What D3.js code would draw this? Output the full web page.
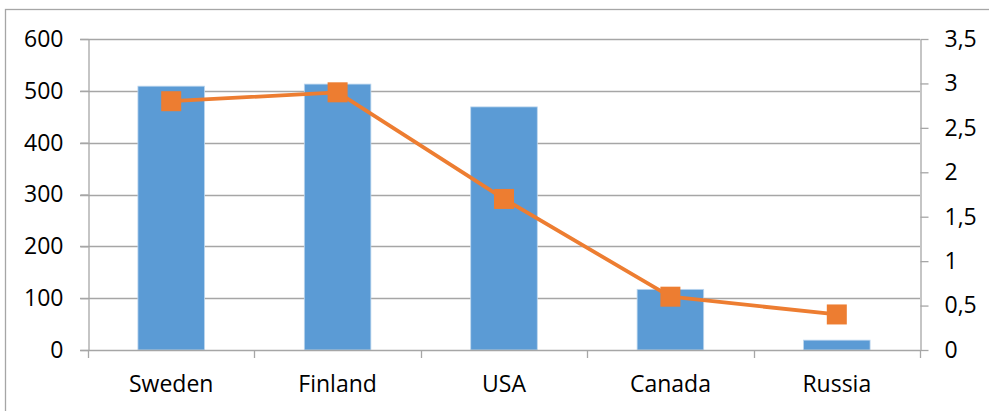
<!DOCTYPE html>
<html><head><meta charset="utf-8">
<script src="https://cdn.jsdelivr.net/npm/d3@7"></script>
<style>html,body{margin:0;padding:0;background:#fff;}svg{display:block;}</style>
</head><body>
<script>
const categories = ["Sweden", "Finland", "USA", "Canada", "Russia"];
const barValues = [509, 513, 469, 117, 19];
const lineValues = [2.80, 2.90, 1.70, 0.60, 0.40];
const leftTicks = [0, 100, 200, 300, 400, 500, 600];
const rightTicks = [0, 0.5, 1, 1.5, 2, 2.5, 3, 3.5];
const rightTickLabels = ["0", "0,5", "1", "1,5", "2", "2,5", "3", "3,5"];

const W = 989, H = 411;
const m = {left: 88, right: W - 920, top: 39, bottom: H - 350};
const font = "'Open Sans', sans-serif";
const grey = "#a6a6a6";

const svg = d3.select("body").append("svg").attr("width", W).attr("height", H);
svg.append("rect").attr("x", 5.5).attr("y", 9.5).attr("width", W).attr("height", H)
  .attr("fill", "none").attr("stroke", "#a6a6a6").attr("stroke-width", 1.3);

const x = d3.scaleBand().domain(categories).range([m.left, W - m.right]).paddingInner(0.6).paddingOuter(0.3);
const xb = d3.scaleBand().domain(categories).range([m.left, W - m.right]);
const yL = d3.scaleLinear().domain([0, 600]).range([H - m.bottom, m.top]);
const yR = d3.scaleLinear().domain([0, 3.5]).range([H - m.bottom, m.top]);

// gridlines
svg.append("g").selectAll("line").data(leftTicks.filter(d => d > 0)).join("line")
  .attr("x1", m.left - 8).attr("x2", W - m.right)
  .attr("y1", d => Math.round(yL(d)) + 0.5).attr("y2", d => Math.round(yL(d)) + 0.5)
  .attr("stroke", grey).attr("stroke-width", 1.3);

// bars
svg.append("g").selectAll("rect").data(categories).join("rect")
  .attr("x", d => x(d)).attr("width", x.bandwidth())
  .attr("y", (d, i) => yL(barValues[i])).attr("height", (d, i) => yL(0) - yL(barValues[i]))
  .attr("fill", "#5b9bd5").attr("stroke", "#bcd6ee").attr("stroke-width", 0.8);

// left axis
const gl = svg.append("g").attr("transform", `translate(${m.left + 0.5},0)`)
  .call(d3.axisLeft(yL).tickValues(leftTicks).tickSize(8).tickPadding(17).tickSizeOuter(0));
// right axis
const gr = svg.append("g").attr("transform", `translate(${W - m.right + 0.5},0)`)
  .call(d3.axisRight(yR).tickValues(rightTicks).tickFormat((d, i) => rightTickLabels[i]).tickSize(8).tickPadding(16).tickSizeOuter(0));
// bottom axis
const gb = svg.append("g").attr("transform", `translate(0,${Math.round(yL(0)) + 0.5})`)
  .call(d3.axisBottom(xb).tickSize(0).tickPadding(25).tickSizeOuter(0));
gb.select(".domain").attr("d", `M${m.left - 8},0H${W - m.right}`);
// category boundary ticks
const bounds = categories.map(c => xb(c)).concat([W - m.right]);
svg.append("g").selectAll("line").data(bounds).join("line")
  .attr("x1", d => Math.round(d) + 0.5).attr("x2", d => Math.round(d) + 0.5)
  .attr("y1", yL(0)).attr("y2", yL(0) + 8).attr("stroke", grey).attr("stroke-width", 1.3);

[gl, gr, gb].forEach(g => {
  g.selectAll(".domain").attr("stroke", grey).attr("stroke-width", 1.3);
  g.selectAll(".tick line").attr("stroke", grey).attr("stroke-width", 1.3);
  g.selectAll("text").attr("font-family", font).attr("font-size", 23).attr("fill", "#000");
});

// line series
const line = d3.line().x((d, i) => xb(categories[i]) + xb.bandwidth() / 2).y(d => yR(d));
svg.append("path").datum(lineValues).attr("d", line)
  .attr("fill", "none").attr("stroke", "#ed7d31").attr("stroke-width", 3.8).attr("stroke-linejoin", "round");
svg.append("g").selectAll("rect").data(lineValues).join("rect")
  .attr("x", (d, i) => xb(categories[i]) + xb.bandwidth() / 2 - 10)
  .attr("y", d => yR(d) - 10).attr("width", 20).attr("height", 20)
  .attr("fill", "#ed7d31");
</script>
</body></html>
